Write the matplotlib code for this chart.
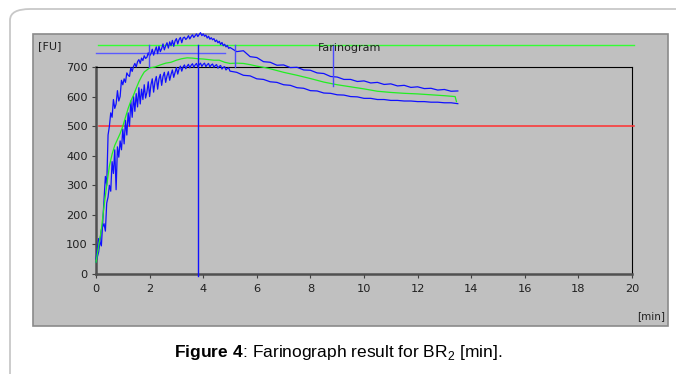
import matplotlib
matplotlib.use("Agg")
import matplotlib.pyplot as plt
from matplotlib.patches import Rectangle, FancyBboxPatch

plt.rcParams['font.family'] = ['DejaVu Sans']
plt.rcParams['mathtext.fontset'] = 'custom'
plt.rcParams['mathtext.rm'] = 'Liberation Sans'
plt.rcParams['mathtext.bf'] = 'Liberation Sans:bold'

# farinograph traces, time [min] / consistency [FU]
t_blue = [0.0, 0.1, 0.2,
          0.30, 0.35, 0.40, 0.45, 0.50, 0.55, 0.60, 0.65, 0.70, 0.75, 0.80, 0.85,
          0.90, 0.95, 1.00, 1.05, 1.10, 1.15, 1.20, 1.25, 1.30, 1.35, 1.40, 1.45,
          1.50, 1.55, 1.60, 1.65, 1.70, 1.75, 1.80, 1.85, 1.90, 1.95, 2.00, 2.05,
          2.10, 2.15, 2.20, 2.25, 2.30, 2.35, 2.40, 2.45, 2.50, 2.55, 2.60, 2.65,
          2.70, 2.75, 2.80, 2.85, 2.90, 2.95, 3.00, 3.05, 3.10, 3.15, 3.20, 3.25,
          3.30, 3.35, 3.40, 3.45, 3.50, 3.55, 3.60, 3.65, 3.70, 3.75, 3.80, 3.85,
          3.90, 3.95, 4.00, 4.05, 4.10, 4.15, 4.20, 4.25, 4.30, 4.35, 4.40, 4.45,
          4.50, 4.55, 4.60, 4.65, 4.70, 4.75, 4.80, 4.85, 4.90, 4.95, 5.00,
          5.25, 5.5, 5.75, 6.0, 6.25, 6.5, 6.75, 7.0, 7.25, 7.5, 7.75, 8.0, 8.25,
          8.5, 8.75, 9.0, 9.25, 9.5, 9.75, 10.0, 10.25, 10.5, 10.75, 11.0, 11.25,
          11.5, 11.75, 12.0, 12.25, 12.5, 12.75, 13.0, 13.25, 13.5]
fu_upper = [50, 120, 95,
            250, 330, 300, 470, 500, 545, 530, 590, 560, 575, 620, 585,
            600, 655, 640, 660, 648, 680, 672, 668, 698, 685, 702, 712,
            700, 718, 725, 712, 730, 722, 738, 729, 733, 748, 737, 745,
            760, 740, 755, 768, 745, 770, 752, 762, 778, 758, 772, 782,
            764, 785, 772, 790, 770, 788, 796, 778, 793, 800, 782, 798,
            801, 793, 798, 806, 795, 803, 809, 800, 806, 812, 803, 810,
            816, 806, 812, 804, 808, 798, 804, 794, 799, 792, 796, 786,
            791, 782, 787, 776, 783, 772, 777, 768, 773, 763, 766,
            752, 755, 735, 732, 718, 716, 706, 707, 698, 699, 690, 689, 680,
            678, 668, 666, 658, 658, 651, 653, 646, 648, 641, 643, 636,
            638, 631, 633, 627, 628, 622, 624, 618, 619]
fu_lower = [40, 75, 150,
            170, 145, 240, 260, 300, 280, 380, 340, 420, 285, 430, 395,
            450, 420, 490, 440, 520, 470, 545, 500, 585, 530, 600, 550,
            610, 565, 630, 575, 625, 590, 640, 595, 615, 650, 600, 640,
            660, 615, 650, 668, 625, 660, 675, 638, 668, 682, 648, 670,
            684, 655, 675, 690, 665, 682, 698, 676, 694, 703, 686, 700,
            707, 694, 703, 709, 697, 706, 711, 699, 707, 712, 700, 708,
            713, 702, 709, 713, 701, 708, 712, 700, 707, 710, 699, 705,
            708, 696, 702, 705, 693, 699, 701, 690, 695, 697, 686,
            682, 672, 670, 660, 658, 650, 648, 640, 638, 630, 628, 620, 619,
            612, 611, 606, 605, 600, 599, 594, 594, 590, 590, 587, 587,
            585, 585, 583, 583, 581, 581, 579, 579, 576]

t_mid = [0.0, 0.1, 0.2, 0.3, 0.4, 0.5, 0.6, 0.7, 0.8, 0.9, 1.0, 1.1, 1.2, 1.3, 1.4,
         1.5, 1.6, 1.7, 1.8, 1.9, 2.0, 2.2, 2.4, 2.6, 2.8, 3.0, 3.2, 3.4, 3.6, 3.8,
         4.0, 4.2, 4.4, 4.6, 4.8, 5.0, 5.25, 5.5, 5.75, 6.0, 6.25, 6.5, 6.75, 7.0,
         7.5, 8.0, 8.5, 9.0, 9.5, 10.0, 10.5, 11.0, 11.5, 12.0, 12.5, 13.0, 13.4, 13.45]
fu_mid = [40, 95, 150, 230, 300, 365, 405, 435, 455, 475, 500, 530, 560, 585, 605,
          628, 650, 668, 683, 690, 697, 700, 707, 713, 716, 723, 728, 731, 730, 728,
          727, 725, 723, 723, 716, 712, 713, 712, 708, 703, 699, 694, 688, 682,
          672, 661, 649, 640, 633, 626, 618, 614, 611, 609, 606, 603, 600, 583]

consistency_line = 500
top_level = 776
band_level = 749
band_end = 4.8
peak_time = 3.81
marker_times = [1.98, 5.19, 8.84]
marker_bottoms = [700, 700, 636]

x_ticks = [0, 2, 4, 6, 8, 10, 12, 14, 16, 18, 20]
y_ticks = [0, 100, 200, 300, 400, 500, 600, 700]

W, H = 676, 374
fig = plt.figure(figsize=(W / 100, H / 100), dpi=100)
fig.patch.set_facecolor('white')

# outer page frame
frame = FancyBboxPatch((10 / W, -0.2), 1.2, 1 - 9 / H + 0.2,
                       boxstyle="round,pad=0,rounding_size=0.03",
                       transform=fig.transFigure, facecolor='white',
                       edgecolor='#c8c8c8', linewidth=1.3, zorder=0)
fig.patches.append(frame)

# gray panel
panel = Rectangle((33 / W, 1 - 326 / H), 635 / W, 292 / H, transform=fig.transFigure,
                  facecolor='#c0c0c0', edgecolor='#8a8a8a', linewidth=1.2, zorder=1)
fig.patches.append(panel)

ax = fig.add_axes([96 / W, 1 - 274 / H, 536 / W, 207 / H])
ax.set_facecolor('#c0c0c0')
ax.set_zorder(2)
ax.set_xlim(0, 20)
ax.set_ylim(0, 700)

for s in ['top', 'right']:
    ax.spines[s].set_color('black')
    ax.spines[s].set_linewidth(0.8)
for s in ['left', 'bottom']:
    ax.spines[s].set_color('#505050')
    ax.spines[s].set_linewidth(1.8)

ax.set_xticks(x_ticks)
ax.set_yticks(y_ticks)
ax.tick_params(axis='both', direction='out', length=3, width=0.8, color='#404040',
               labelsize=8.2, labelcolor='#202020')
ax.tick_params(axis='x', pad=4)
ax.tick_params(axis='y', pad=3)

blue = '#1010ff'
ax.plot(t_blue, fu_upper, color=blue, lw=0.9, clip_on=False, zorder=4)
ax.plot(t_blue, fu_lower, color=blue, lw=0.9, clip_on=False, zorder=4)
ax.plot(t_mid, fu_mid, color='#22ee22', lw=0.9, clip_on=False, zorder=5)

ax.plot([0.1, 20.07], [consistency_line, consistency_line], color='#ff3030', lw=1.1,
        clip_on=False, zorder=3)
ax.plot([0.07, 20.07], [top_level, top_level], color='#33ff33', lw=1.0,
        clip_on=False, zorder=3)
ax.plot([0.0, band_end], [band_level, band_level], color='#5a5aff', lw=1.0,
        clip_on=False, zorder=3)
ax.plot([peak_time, peak_time], [-8, top_level], color='#1010ff', lw=1.0,
        clip_on=False, zorder=6)
for mt, mb in zip(marker_times, marker_bottoms):
    ax.plot([mt, mt], [mb, top_level], color='#4a4aff', lw=1.0, clip_on=False, zorder=6)

fig.text(318 / W, 1 - 48 / H, 'Farinogram', fontsize=8, color='#202020',
         ha='left', va='center', zorder=3)
fig.text(38 / W, 1 - 46 / H, '[FU]', fontsize=8, color='#202020', ha='left', va='center')
fig.text(665 / W, 1 - 316 / H, '[min]', fontsize=7.5, color='#202020', ha='right',
         va='center')

fig.text(338 / W, 1 - 352 / H, r'$\mathbf{Figure\ 4}$: Farinograph result for BR$_2$ [min].',
         fontsize=12.5, ha='center', va='center', color='black',
         fontfamily='Liberation Sans')

fig.savefig('out.png', dpi=100)
